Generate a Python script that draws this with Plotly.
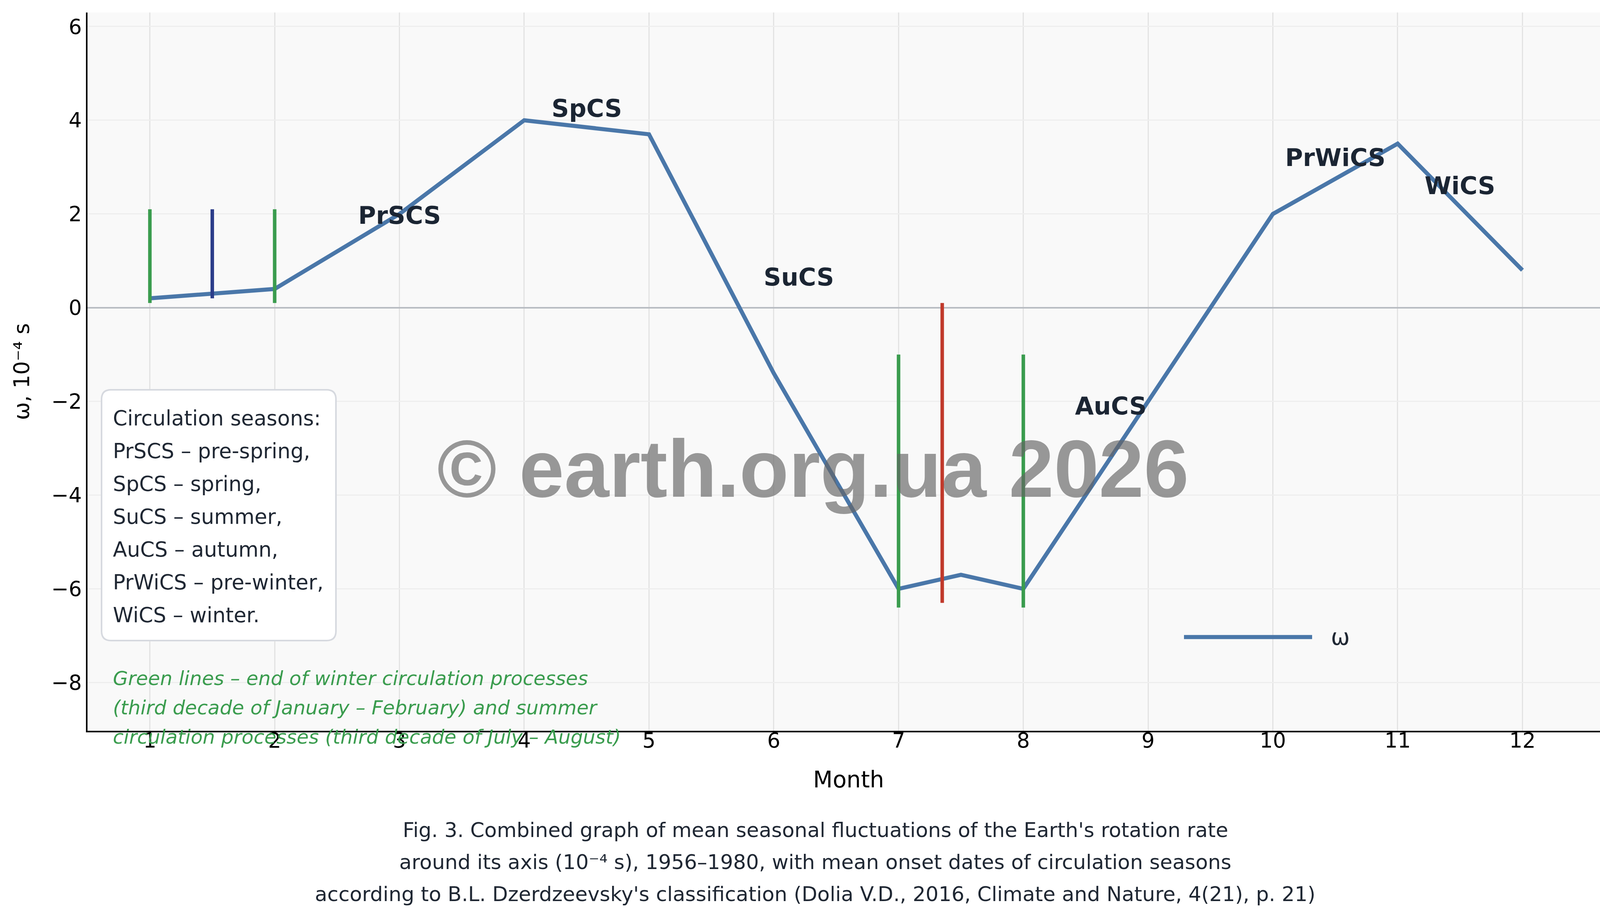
import plotly.graph_objects as go

# ---------------- data ----------------
months = [1, 2, 3, 4, 5, 6, 7, 7.5, 8, 9, 10, 11, 12]
omega = [0.2, 0.4, 2.0, 4.0, 3.7, -1.4, -6.0, -5.7, -6.0, -2.0, 2.0, 3.5, 0.8]

vline_x = [1, 1.5, 2, 7, 7.35, 8]
vline_lo = [0.1, 0.2, 0.1, -6.4, -6.3, -6.4]
vline_hi = [2.1, 2.1, 2.1, -1.0, 0.1, -1.0]
vline_kind = ["green", "navy", "green", "green", "red", "green"]

season_labels = ["PrSCS", "SpCS", "SuCS", "AuCS", "PrWiCS", "WiCS"]
season_x = [3.0, 4.5, 6.2, 8.7, 10.5, 11.5]
season_y = [1.97, 4.25, 0.65, -2.1, 3.2, 2.6]

x_ticks = list(range(1, 13))
y_ticks = [-8, -6, -4, -2, 0, 2, 4, 6]

legend_lines = [
    "Circulation seasons:",
    "PrSCS – pre-spring,",
    "SpCS – spring,",
    "SuCS – summer,",
    "AuCS – autumn,",
    "PrWiCS – pre-winter,",
    "WiCS – winter.",
]
note_lines = [
    "Green lines – end of winter circulation processes",
    "(third decade of January – February) and summer",
    "circulation processes (third decade of July – August)",
]
caption_lines = [
    "Fig. 3. Combined graph of mean seasonal fluctuations of the Earth's rotation rate",
    "around its axis (10⁻⁴ s), 1956–1980, with mean onset dates of circulation seasons",
    "according to B.L. Dzerdzeevsky's classification (Dolia V.D., 2016, Climate and Nature, 4(21), p. 21)",
]
watermark = "© earth.org.ua 2026"

# ---------------- styles / layout geometry ----------------
W, H = 4152, 2358
L, R, T, B = 224, 4121, 32, 1871
FONT = "DejaVu Sans"
LINE_BLUE = "#4a77a9"
COLORS = {"green": "#3a9c4e", "navy": "#2c3d8a", "red": "#c0392b"}
TEXT_DARK = "#1f2733"


def px(xp):
    return (xp - L) / (R - L)


def py(yp):
    return (B - yp) / (B - T)


fig = go.Figure()

fig.add_trace(go.Scatter(
    x=months, y=omega, mode="lines", name="ω",
    line=dict(color=LINE_BLUE, width=10.5), showlegend=False,
))

for xv, lo, hi, kind in zip(vline_x, vline_lo, vline_hi, vline_kind):
    fig.add_trace(go.Scatter(
        x=[xv, xv], y=[lo, hi], mode="lines",
        line=dict(color=COLORS[kind], width=9), showlegend=False,
        hoverinfo="skip",
    ))

annotations = []
for lab, sx, sy in zip(season_labels, season_x, season_y):
    annotations.append(dict(
        x=sx, y=sy, xref="x", yref="y", text=lab, showarrow=False,
        xanchor="center", yanchor="middle",
        font=dict(family=FONT, size=62, color="#1b2533", weight="bold"),
    ))

# legend box texts
for i, t in enumerate(legend_lines):
    annotations.append(dict(
        x=px(287), y=py(1070 + 84 * i), xref="paper", yref="paper",
        text=t, showarrow=False, xanchor="left", yanchor="middle",
        font=dict(family=FONT, size=53, color=TEXT_DARK),
    ))

# green note
for i, t in enumerate(note_lines):
    annotations.append(dict(
        x=px(287), y=py(1737 + 75 * i), xref="paper", yref="paper",
        text=t, showarrow=False, xanchor="left", yanchor="middle",
        font=dict(family=FONT, size=50, color=COLORS["green"], style="italic"),
    ))

# caption
for i, t in enumerate(caption_lines):
    annotations.append(dict(
        x=px(2087), y=py(2125 + 82 * i), xref="paper", yref="paper",
        text=t, showarrow=False, xanchor="center", yanchor="middle",
        font=dict(family=FONT, size=52, color=TEXT_DARK),
    ))

# legend-like sample
annotations.append(dict(
    x=px(3405), y=py(1631), xref="paper", yref="paper", text="ω",
    showarrow=False, xanchor="left", yanchor="middle",
    font=dict(family=FONT, size=58, color=TEXT_DARK),
))

# watermark
annotations.append(dict(
    x=px(2081), y=py(1200), xref="paper", yref="paper", text=watermark,
    showarrow=False, xanchor="center", yanchor="middle",
    font=dict(family="Liberation Sans", size=207, color="rgba(100,100,100,0.66)", weight="bold"),
))

# rounded box path
bx0, bx1, by0, by1, rad = 260, 860, 998, 1640, 24
rx, ry = rad / (R - L), rad / (B - T)
X0, X1 = px(bx0), px(bx1)
Ytop, Ybot = py(by0), py(by1)
path = (
    f"M {X0 + rx},{Ytop} L {X1 - rx},{Ytop} Q {X1},{Ytop} {X1},{Ytop - ry} "
    f"L {X1},{Ybot + ry} Q {X1},{Ybot} {X1 - rx},{Ybot} "
    f"L {X0 + rx},{Ybot} Q {X0},{Ybot} {X0},{Ybot + ry} "
    f"L {X0},{Ytop - ry} Q {X0},{Ytop} {X0 + rx},{Ytop} Z"
)
shapes = [
    dict(type="path", path=path, xref="paper", yref="paper",
         fillcolor="white", line=dict(color="#d6d9df", width=4), layer="above"),
    dict(type="line", xref="paper", yref="paper",
         x0=px(3031), x1=px(3359), y0=py(1631), y1=py(1631),
         line=dict(color=LINE_BLUE, width=10.5), layer="above"),
]

fig.update_layout(
    width=W, height=H, autosize=False,
    margin=dict(l=L, r=W - R, t=T, b=H - B, autoexpand=False),
    paper_bgcolor="white", plot_bgcolor="#f9f9f9",
    font=dict(family=FONT, size=53, color="black"),
    annotations=annotations, shapes=shapes, showlegend=False,
)
fig.update_xaxes(
    range=[0.5, 12.7], tickvals=x_ticks, ticktext=[str(v) for v in x_ticks],
    showgrid=True, gridcolor="#e3e3e3", gridwidth=3, zeroline=False,
    showline=True, linecolor="black", linewidth=4, ticks="",
    ticklabelstandoff=-25,
    tickfont=dict(family=FONT, size=53, color="black"), automargin=False,
    title=dict(text="Month", font=dict(family=FONT, size=58, color="black"), standoff=52),
)
fig.update_yaxes(
    range=[-9.03, 6.3], tickvals=y_ticks,
    showgrid=True, gridcolor="#eeeeee", gridwidth=3,
    zeroline=True, zerolinecolor="#b8bcc2", zerolinewidth=4,
    showline=True, linecolor="black", linewidth=4, ticks="",
    tickfont=dict(family=FONT, size=53, color="black"), automargin=False,
    title=dict(text="ω, 10⁻⁴ s", font=dict(family=FONT, size=55, color="black"), standoff=40),
)

fig.write_html(
    "out.html", config={"displayModeBar": False},
    post_script="document.body.style.margin='0';document.body.style.overflow='hidden';",
)
